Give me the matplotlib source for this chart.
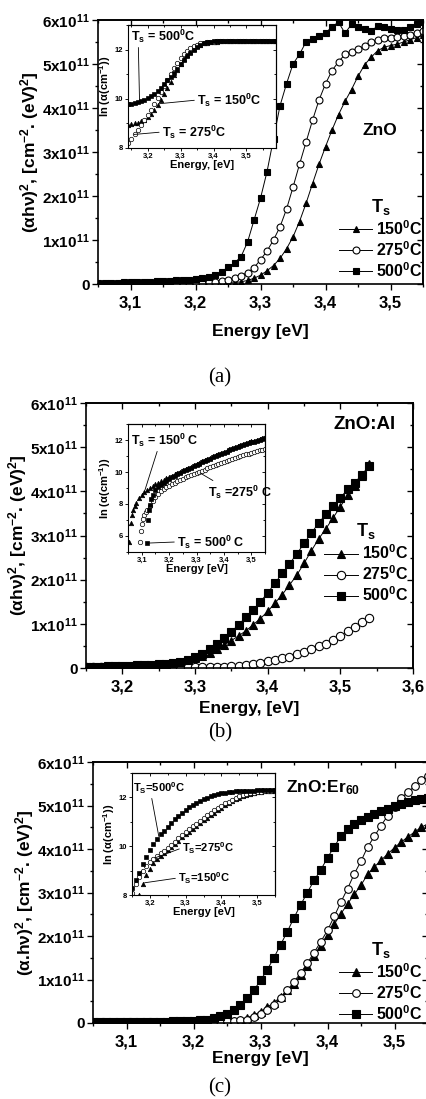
import matplotlib
matplotlib.use('Agg')
import matplotlib.pyplot as plt
from matplotlib.ticker import MultipleLocator, NullFormatter

plt.rcParams['font.family'] = ['Liberation Sans', 'DejaVu Sans']
plt.rcParams['font.weight'] = 'bold'
plt.rcParams['mathtext.fontset'] = 'custom'
plt.rcParams['mathtext.rm'] = 'Liberation Sans:bold'
plt.rcParams['mathtext.bf'] = 'Liberation Sans:bold'
plt.rcParams['mathtext.it'] = 'Liberation Sans:bold:italic'
plt.rcParams['mathtext.default'] = 'bf'

# ---------------- data: main panels, (alpha h nu)^2 in units of 1e11 ----------------
energy_ac = [3.05, 3.06, 3.07, 3.08, 3.09, 3.10, 3.11, 3.12, 3.13, 3.14, 3.15, 3.16, 3.17,
             3.18, 3.19, 3.20, 3.21, 3.22, 3.23, 3.24, 3.25, 3.26, 3.27, 3.28, 3.29, 3.30,
             3.31, 3.32, 3.33, 3.34, 3.35, 3.36, 3.37, 3.38, 3.39, 3.40, 3.41, 3.42, 3.43,
             3.44, 3.45, 3.46, 3.47, 3.48, 3.49, 3.50, 3.51, 3.52, 3.53, 3.54, 3.55]
energy_b = [3.15, 3.16, 3.17, 3.18, 3.19, 3.20, 3.21, 3.22, 3.23, 3.24, 3.25, 3.26, 3.27,
            3.28, 3.29, 3.30, 3.31, 3.32, 3.33, 3.34, 3.35, 3.36, 3.37, 3.38, 3.39, 3.40,
            3.41, 3.42, 3.43, 3.44, 3.45, 3.46, 3.47, 3.48, 3.49, 3.50, 3.51, 3.52, 3.53, 3.54]

zno_150 = [0.01, 0.01, 0.01, 0.01, 0.01, 0.01, 0.01, 0.01, 0.01, 0.01, 0.01, 0.01, 0.01,
           0.01, 0.01, 0.01, 0.02, 0.02, 0.02, 0.02, 0.02, 0.03, 0.05, 0.08, 0.13, 0.20,
           0.30, 0.42, 0.58, 0.80, 1.07, 1.42, 1.83, 2.28, 2.72, 3.12, 3.50, 3.85, 4.15,
           4.42, 4.72, 4.98, 5.15, 5.30, 5.38, 5.42, 5.45, 5.50, 5.55, 5.60, 5.65]
zno_275 = [0.01, 0.01, 0.01, 0.01, 0.01, 0.01, 0.01, 0.01, 0.01, 0.01, 0.02, 0.02, 0.02,
           0.02, 0.02, 0.03, 0.03, 0.04, 0.05, 0.07, 0.10, 0.14, 0.19, 0.26, 0.37, 0.55,
           0.75, 1.00, 1.30, 1.70, 2.20, 2.72, 3.22, 3.72, 4.18, 4.55, 4.85, 5.05, 5.22,
           5.28, 5.33, 5.42, 5.50, 5.55, 5.58, 5.60, 5.61, 5.63, 5.66, 5.71, 5.75]
zno_500 = [0.03, 0.03, 0.03, 0.03, 0.04, 0.04, 0.04, 0.05, 0.05, 0.06, 0.06, 0.07, 0.08,
           0.09, 0.10, 0.11, 0.13, 0.16, 0.20, 0.28, 0.38, 0.48, 0.62, 0.95, 1.45, 1.95,
           2.55, 3.30, 4.05, 4.55, 5.00, 5.22, 5.50, 5.57, 5.63, 5.70, 5.85, 5.95, 5.70,
           5.90, 5.85, 5.80, 5.75, 5.86, 5.85, 5.80, 5.77, 5.77, 5.85, 5.92, 5.95]

znoal_150 = [0.03, 0.03, 0.03, 0.04, 0.04, 0.04, 0.05, 0.05, 0.06, 0.06, 0.07, 0.08, 0.10,
             0.13, 0.17, 0.22, 0.28, 0.35, 0.43, 0.52, 0.62, 0.73, 0.84, 0.98, 1.12, 1.28,
             1.47, 1.66, 1.88, 2.10, 2.37, 2.65, 2.92, 3.15, 3.40, 3.65, 3.92, 4.12, 4.35, 4.62]
znoal_275 = [0.03, 0.03, 0.03, 0.03, 0.03, 0.03, 0.03, 0.03, 0.03, 0.03, 0.03, 0.03, 0.03,
             0.03, 0.03, 0.03, 0.03, 0.03, 0.03, 0.03, 0.04, 0.05, 0.07, 0.09, 0.12, 0.15,
             0.18, 0.22, 0.26, 0.31, 0.37, 0.43, 0.49, 0.55, 0.63, 0.72, 0.83, 0.93, 1.04, 1.14]
znoal_500 = [0.03, 0.03, 0.03, 0.04, 0.04, 0.05, 0.05, 0.06, 0.06, 0.07, 0.08, 0.09, 0.11,
             0.14, 0.18, 0.24, 0.32, 0.43, 0.55, 0.68, 0.82, 0.98, 1.15, 1.32, 1.50, 1.70,
             1.92, 2.14, 2.36, 2.58, 2.82, 3.05, 3.28, 3.48, 3.66, 3.85, 4.05, 4.20, 4.38, 4.58]

znoer_150 = [0.02, 0.02, 0.02, 0.02, 0.02, 0.02, 0.02, 0.02, 0.02, 0.02, 0.02, 0.02, 0.02,
             0.02, 0.02, 0.02, 0.02, 0.03, 0.03, 0.03, 0.04, 0.05, 0.07, 0.12, 0.18, 0.26,
             0.36, 0.47, 0.60, 0.75, 0.90, 1.10, 1.30, 1.54, 1.78, 2.02, 2.27, 2.51, 2.74,
             2.96, 3.17, 3.42, 3.59, 3.74, 3.89, 4.03, 4.16, 4.28, 4.39, 4.50, 4.58]
znoer_275 = [0.02, 0.02, 0.02, 0.02, 0.02, 0.02, 0.02, 0.02, 0.02, 0.02, 0.02, 0.02, 0.02,
             0.02, 0.02, 0.02, 0.03, 0.03, 0.03, 0.04, 0.04, 0.05, 0.06, 0.08, 0.13, 0.20,
             0.30, 0.42, 0.57, 0.75, 0.95, 1.15, 1.38, 1.62, 1.87, 2.13, 2.45, 2.78, 3.09,
             3.43, 3.72, 4.05, 4.29, 4.54, 4.77, 4.97, 5.17, 5.31, 5.44, 5.58, 5.68]
znoer_500 = [0.02, 0.02, 0.02, 0.02, 0.02, 0.02, 0.02, 0.03, 0.03, 0.03, 0.03, 0.03, 0.04,
             0.04, 0.04, 0.05, 0.06, 0.08, 0.11, 0.15, 0.21, 0.30, 0.42, 0.57, 0.75, 0.98,
             1.22, 1.50, 1.80, 2.10, 2.42, 2.72, 3.00, 3.28, 3.52, 3.80, 4.05, 4.30, 4.47,
             4.58, 4.66, 4.74, 4.81, 4.87, 4.93, 4.98, 5.04, 5.08, 5.12, 5.16, 5.18]

# ---------------- data: insets, ln(alpha) ----------------
energy_ia = [3.14, 3.15, 3.16, 3.17, 3.18, 3.19, 3.20, 3.21, 3.22, 3.23, 3.24, 3.25, 3.26,
             3.27, 3.28, 3.29, 3.30, 3.31, 3.32, 3.33, 3.34, 3.35, 3.36, 3.37, 3.38, 3.39,
             3.40, 3.41, 3.42, 3.43, 3.44, 3.45, 3.46, 3.47, 3.48, 3.49, 3.50, 3.51, 3.52,
             3.53, 3.54, 3.55, 3.56, 3.57, 3.58, 3.59]
ln_zno_150 = [8.95, 8.98, 9.00, 9.03, 9.08, 9.15, 9.25, 9.38, 9.55, 9.75, 9.97, 10.20, 10.45,
              10.70, 10.95, 11.18, 11.40, 11.60, 11.77, 11.92, 12.04, 12.13, 12.20, 12.25,
              12.28, 12.30, 12.31, 12.32, 12.33, 12.33, 12.33, 12.33, 12.33, 12.33, 12.33,
              12.33, 12.33, 12.33, 12.33, 12.33, 12.33, 12.33, 12.33, 12.33, 12.33, 12.33]
ln_zno_275 = [8.20, 8.35, 8.55, 8.75, 8.95, 9.15, 9.35, 9.55, 9.78, 10.02, 10.27, 10.52, 10.77,
              11.02, 11.25, 11.47, 11.66, 11.82, 11.95, 12.06, 12.14, 12.20, 12.25, 12.28,
              12.30, 12.31, 12.32, 12.33, 12.33, 12.33, 12.33, 12.33, 12.33, 12.33, 12.33,
              12.33, 12.33, 12.33, 12.33, 12.33, 12.33, 12.33, 12.33, 12.33, 12.33, 12.33]
ln_zno_500 = [9.78, 9.80, 9.82, 9.85, 9.90, 9.95, 10.02, 10.10, 10.20, 10.32, 10.45, 10.60,
              10.75, 10.90, 11.05, 11.22, 11.40, 11.56, 11.72, 11.86, 12.00, 12.10, 12.19,
              12.26, 12.30, 12.32, 12.33, 12.33, 12.33, 12.33, 12.33, 12.33, 12.33, 12.33,
              12.33, 12.33, 12.33, 12.33, 12.33, 12.33, 12.33, 12.33, 12.33, 12.33, 12.33, 12.33]

energy_ib = [3.10, 3.11, 3.12, 3.13, 3.14, 3.15, 3.16, 3.17, 3.18, 3.19, 3.20, 3.21, 3.22,
             3.23, 3.24, 3.25, 3.26, 3.27, 3.28, 3.29, 3.30, 3.31, 3.32, 3.33, 3.34, 3.35,
             3.36, 3.37, 3.38, 3.39, 3.40, 3.41, 3.42, 3.43, 3.44, 3.45, 3.46, 3.47, 3.48,
             3.49, 3.50, 3.51, 3.52, 3.53, 3.54, 3.55]
edge_ib_150 = [3.055, 3.06, 3.065, 3.07, 3.075, 3.08, 3.09]
edge_ib_275 = [3.093, 3.097, 3.10, 3.105, 3.11, 3.115, 3.12]
edge_ib_500 = [3.118, 3.122, 3.126, 3.13, 3.135, 3.14]
ln_znoal_150 = [5.60, 6.80, 7.30, 7.60, 7.85, 8.05, 8.35, 8.58, 8.76, 8.90, 9.03,
                9.14, 9.24, 9.34, 9.43, 9.52, 9.60, 9.68, 9.77, 9.85, 9.94, 10.02, 10.10,
                10.18, 10.26, 10.34, 10.42, 10.50, 10.58, 10.66, 10.74, 10.82, 10.90, 10.97,
                11.05, 11.12, 11.20, 11.27, 11.34, 11.41, 11.48, 11.54, 11.61, 11.67, 11.73,
                11.79, 11.85, 11.91, 11.96, 12.02, 12.07, 12.12, 12.17]
ln_znoal_275 = [5.60, 6.30, 6.75, 7.05, 7.30, 7.50, 7.65,
                7.90, 8.20, 8.45, 8.65, 8.80, 8.93, 9.04, 9.14, 9.23, 9.32, 9.41, 9.50,
                9.58, 9.66, 9.73, 9.80, 9.87, 9.94, 10.01, 10.08, 10.15, 10.22, 10.29, 10.36,
                10.43, 10.50, 10.57, 10.63, 10.69, 10.75, 10.81, 10.87, 10.93, 10.99, 11.05,
                11.10, 11.15, 11.20, 11.25, 11.30, 11.35, 11.40, 11.45]
ln_znoal_500 = [5.55, 7.00, 7.60, 7.95, 8.30, 8.55,
                8.85, 9.05, 9.20, 9.33, 9.45, 9.55, 9.66, 9.76, 9.86, 9.95, 10.04, 10.12,
                10.20, 10.28, 10.36, 10.44, 10.52, 10.60, 10.68, 10.76, 10.84, 10.91, 10.99,
                11.06, 11.14, 11.21, 11.28, 11.35, 11.42, 11.48, 11.55, 11.61, 11.67, 11.73,
                11.79, 11.85, 11.90, 11.96, 12.01, 12.06, 12.11]

energy_ic = [3.15, 3.16, 3.17, 3.18, 3.19, 3.20, 3.21, 3.22, 3.23, 3.24, 3.25, 3.26, 3.27,
             3.28, 3.29, 3.30, 3.31, 3.32, 3.33, 3.34, 3.35, 3.36, 3.37, 3.38, 3.39, 3.40,
             3.41, 3.42, 3.43, 3.44, 3.45, 3.46, 3.47, 3.48, 3.49, 3.50, 3.51, 3.52, 3.53,
             3.54, 3.55]
ln_znoer_150 = [8.00, 8.45, 8.80, 9.08, 9.30, 9.47, 9.61, 9.73, 9.85, 9.97, 10.10, 10.23,
                10.36, 10.48, 10.60, 10.72, 10.84, 10.95, 11.06, 11.17, 11.28, 11.38, 11.48,
                11.58, 11.67, 11.76, 11.84, 11.92, 11.99, 12.05, 12.10, 12.14, 12.18, 12.21,
                12.23, 12.25, 12.26, 12.27, 12.28]
ln_znoer_275 = [8.10, 8.45, 8.75, 9.00, 9.20, 9.35, 9.48, 9.60, 9.71, 9.82, 9.94, 10.06,
                10.19, 10.32, 10.45, 10.57, 10.69, 10.81, 10.93, 11.04, 11.15, 11.26, 11.37,
                11.47, 11.57, 11.66, 11.75, 11.83, 11.91, 11.98, 12.04, 12.09, 12.13, 12.17,
                12.20, 12.22, 12.24, 12.26, 12.27, 12.28, 12.29]
ln_znoer_500 = [8.30, 8.60, 8.92, 9.25, 9.55, 9.85, 10.10, 10.30, 10.48, 10.64, 10.80, 10.95,
                11.10, 11.25, 11.38, 11.50, 11.60, 11.70, 11.78, 11.85, 11.92, 11.98, 12.04,
                12.09, 12.13, 12.17, 12.20, 12.22, 12.24, 12.25, 12.26, 12.27, 12.27, 12.28,
                12.28, 12.29, 12.29, 12.29, 12.30, 12.30, 12.30]

temp_labels = ['150$^0$C', '275$^0$C', '500$^0$C']
y_ticks = [0, 1, 2, 3, 4, 5, 6]
y_tick_labels = ['0', '1x10$^{11}$', '2x10$^{11}$', '3x10$^{11}$', '4x10$^{11}$',
                 '5x10$^{11}$', '6x10$^{11}$']

W, H = 426, 1099
fig = plt.figure(figsize=(W / 100, H / 100), dpi=100)


def px_axes(left, top, right, bottom):
    return fig.add_axes([left / W, 1 - bottom / H, (right - left) / W, (bottom - top) / H])


def frame(ax, xminor, ymaj, yminor, big, lw):
    maj, mnr = (4, 2.5) if big else (2.5, 1.5)
    ax.xaxis.set_minor_locator(MultipleLocator(xminor))
    ax.yaxis.set_minor_locator(MultipleLocator(yminor))
    ax.tick_params(which='both', direction='out', width=lw * 0.8)
    ax.tick_params(which='major', length=maj)
    ax.tick_params(which='minor', length=mnr)
    for s in ax.spines.values():
        s.set_linewidth(lw)
    top = ax.secondary_xaxis('top')
    right = ax.secondary_yaxis('right')
    top.xaxis.set_major_locator(MultipleLocator(2 * xminor))
    top.xaxis.set_minor_locator(MultipleLocator(xminor))
    top.xaxis.set_major_formatter(NullFormatter())
    right.yaxis.set_major_locator(MultipleLocator(ymaj))
    right.yaxis.set_minor_locator(MultipleLocator(yminor))
    right.yaxis.set_major_formatter(NullFormatter())
    for sec in (top, right):
        sec.tick_params(which='both', direction='in', width=lw * 0.8)
        sec.tick_params(which='major', length=maj)
        sec.tick_params(which='minor', length=mnr)
        for s in sec.spines.values():
            s.set_linewidth(lw)


def main_panel(box, energy, curves, xlim, xticks, xticklabels, ms, ylabel, xlabel,
               leg_anchor, xpad):
    ax = px_axes(*box)
    styles = [('^', 'k'), ('o', 'white'), ('s', 'k')]
    handles = []
    for (m, fc), y in zip(styles, curves):
        h, = ax.plot(energy, y, '-', color='k', lw=0.7, marker=m, ms=ms,
                     mfc=fc, mec='k', mew=0.8)
        handles.append(h)
    ax.set_xlim(*xlim)
    ax.set_ylim(0, 6)
    ax.set_xticks(xticks, xticklabels, fontsize=12, fontweight='bold')
    ax.set_yticks(y_ticks, y_tick_labels, fontsize=11, fontweight='bold')
    frame(ax, 0.05, 1, 0.5, True, 1.2)
    ax.tick_params(axis='x', which='major', pad=4)
    ax.tick_params(axis='y', which='major', pad=2)
    ax.set_xlabel(xlabel, fontsize=12.5, fontweight='bold', labelpad=xpad)
    ax.set_ylabel(ylabel, fontsize=12.5, fontweight='bold', labelpad=1)
    ax.legend(handles, temp_labels, title='T$_s$', loc='lower right',
              bbox_to_anchor=leg_anchor, frameon=False, fontsize=11.5,
              title_fontsize=13, borderpad=0, borderaxespad=0, handlelength=2.1,
              handletextpad=0.25, labelspacing=0.15)
    return ax


def inset(box, data, xlim, ylim, yticks, xticks, xticklabels, xlabel):
    ax = px_axes(*box)
    ax.set_facecolor('white')
    styles = [('^', 'k'), ('o', 'white'), ('s', 'k')]
    for (m, fc), (x, y) in zip(styles, data):
        ax.plot(x, y, ls='none', marker=m, ms=3.2, mfc=fc, mec='k', mew=0.5)
    ax.set_xlim(*xlim)
    ax.set_ylim(*ylim)
    ax.set_xticks(xticks, xticklabels, fontsize=5.5)
    ax.set_yticks(yticks, [str(v) for v in yticks], fontsize=5.5)
    frame(ax, 0.05, 2, 1, False, 0.8)
    ax.tick_params(axis='both', which='major', pad=1)
    ax.set_xlabel(xlabel, fontsize=8, fontweight='bold', labelpad=0)
    ax.set_ylabel('ln (α(cm$^{-1}$))', fontsize=8, fontweight='bold', labelpad=1)
    return ax


def note(ax, text, xy, xytext, rel, fs=9):
    ax.annotate(text, xy=xy, xytext=xytext, fontsize=fs, fontweight='bold',
                ha='left', va='center',
                arrowprops=dict(arrowstyle='-', lw=0.6, color='k', relpos=rel,
                                shrinkA=0, shrinkB=0))


xt_ac = [3.1, 3.2, 3.3, 3.4, 3.5]
xl_ac = ['3,1', '3,2', '3,3', '3,4', '3,5']

# ---------------- (a) ZnO ----------------
ax_a = main_panel((98, 20, 423, 284), energy_ac, [zno_150, zno_275, zno_500],
                  (3.05, 3.55), xt_ac, xl_ac, 5,
                  '(αhν)$^2$, [cm$^{-2}$. (eV)$^2$]', 'Energy [eV]', (1.0, 0.015), 10)
ax_a.text(0.868, 0.583, 'ZnO', transform=ax_a.transAxes, fontsize=12.5,
          fontweight='bold', ha='center', va='center')
in_a = inset((128, 25, 276, 148),
             [(energy_ia, ln_zno_150), (energy_ia, ln_zno_275), (energy_ia, ln_zno_500)],
             (3.14, 3.59), (8, 13), [8, 10, 12], [3.2, 3.3, 3.4, 3.5],
             ['3,2', '3,3', '3,4', '3,5'], 'Energy, [eV]')
note(in_a, 'T$_s$ = 500$^0$C', (3.175, 9.95), (3.148, 12.55), (0.12, 0.0))
note(in_a, 'T$_s$ = 150$^0$C', (3.235, 9.80), (3.35, 9.95), (0.0, 0.5))
note(in_a, 'T$_s$ = 275$^0$C', (3.158, 8.55), (3.243, 8.65), (0.0, 0.5))

# ---------------- (b) ZnO:Al ----------------
ax_b = main_panel((86, 403, 413, 668), energy_b, [znoal_150, znoal_275, znoal_500],
                  (3.15, 3.6), [3.2, 3.3, 3.4, 3.5, 3.6],
                  ['3,2', '3,3', '3,4', '3,5', '3,6'], 6,
                  '(αhν)$^2$, [cm$^{-2}$. (eV)$^2$]', 'Energy, [eV]', (0.985, 0.24), 5)
ax_b.text(0.853, 0.917, 'ZnO:Al', transform=ax_b.transAxes, fontsize=13.5,
          fontweight='bold', ha='center', va='center')
in_b = inset((128, 424, 265, 552),
             [(edge_ib_150 + energy_ib, ln_znoal_150),
              (edge_ib_275 + energy_ib[3:], ln_znoal_275),
              (edge_ib_500 + energy_ib[5:], ln_znoal_500)],
             (3.05, 3.55), (5, 13), [6, 8, 10, 12], [3.1, 3.2, 3.3, 3.4, 3.5],
             ['3,1', '3,2', '3,3', '3,4', '3,5'], 'Energy [eV]')
note(in_b, 'T$_s$ = 150$^0$ C', (3.112, 8.88), (3.061, 12.0), (0.4, 0.0))
note(in_b, 'T$_s$ =275$^0$ C', (3.313, 9.94), (3.342, 8.75), (0.15, 1.0))
note(in_b, 'T$_s$ = 500$^0$ C', (3.127, 5.56), (3.229, 5.63), (0.0, 0.5))

# ---------------- (c) ZnO:Er60 ----------------
ax_c = main_panel((93, 762, 428, 1023), energy_ac, [znoer_150, znoer_275, znoer_500],
                  (3.05, 3.55), xt_ac, xl_ac, 5.5,
                  '(α.hν)$^2$, [cm$^{-2}$. (eV)$^2$]', 'Energy [eV]', (0.985, 0.0), 1)
ax_c.text(0.687, 0.9, 'ZnO:Er$_{60}$', transform=ax_c.transAxes, fontsize=12.5,
          fontweight='bold', ha='center', va='center')
in_c = inset((132, 773, 275, 895),
             [(energy_ic[2:], ln_znoer_150), (energy_ic, ln_znoer_275),
              (energy_ic, ln_znoer_500)],
             (3.15, 3.55), (8, 13), [8, 10, 12], [3.2, 3.3, 3.4, 3.5],
             ['3,2', '3,3', '3,4', '3,5'], 'Energy [eV]')
note(in_c, 'T$_S$=500$^0$C', (3.225, 10.4), (3.153, 12.39), (0.35, 0.0), fs=8)
note(in_c, 'T$_S$=275$^0$C', (3.214, 9.52), (3.29, 9.93), (0.0, 0.5), fs=8)
note(in_c, 'T$_S$=150$^0$C', (3.185, 8.50), (3.279, 8.70), (0.0, 0.5), fs=8)

# captions
for cap, ypx in (('(a)', 378), ('(b)', 733), ('(c)', 1088)):
    fig.text(220 / W, 1 - ypx / H, cap, family='Liberation Serif', fontweight='normal',
             fontsize=15, ha='center', va='center')

fig.savefig('out.png', dpi=100)
